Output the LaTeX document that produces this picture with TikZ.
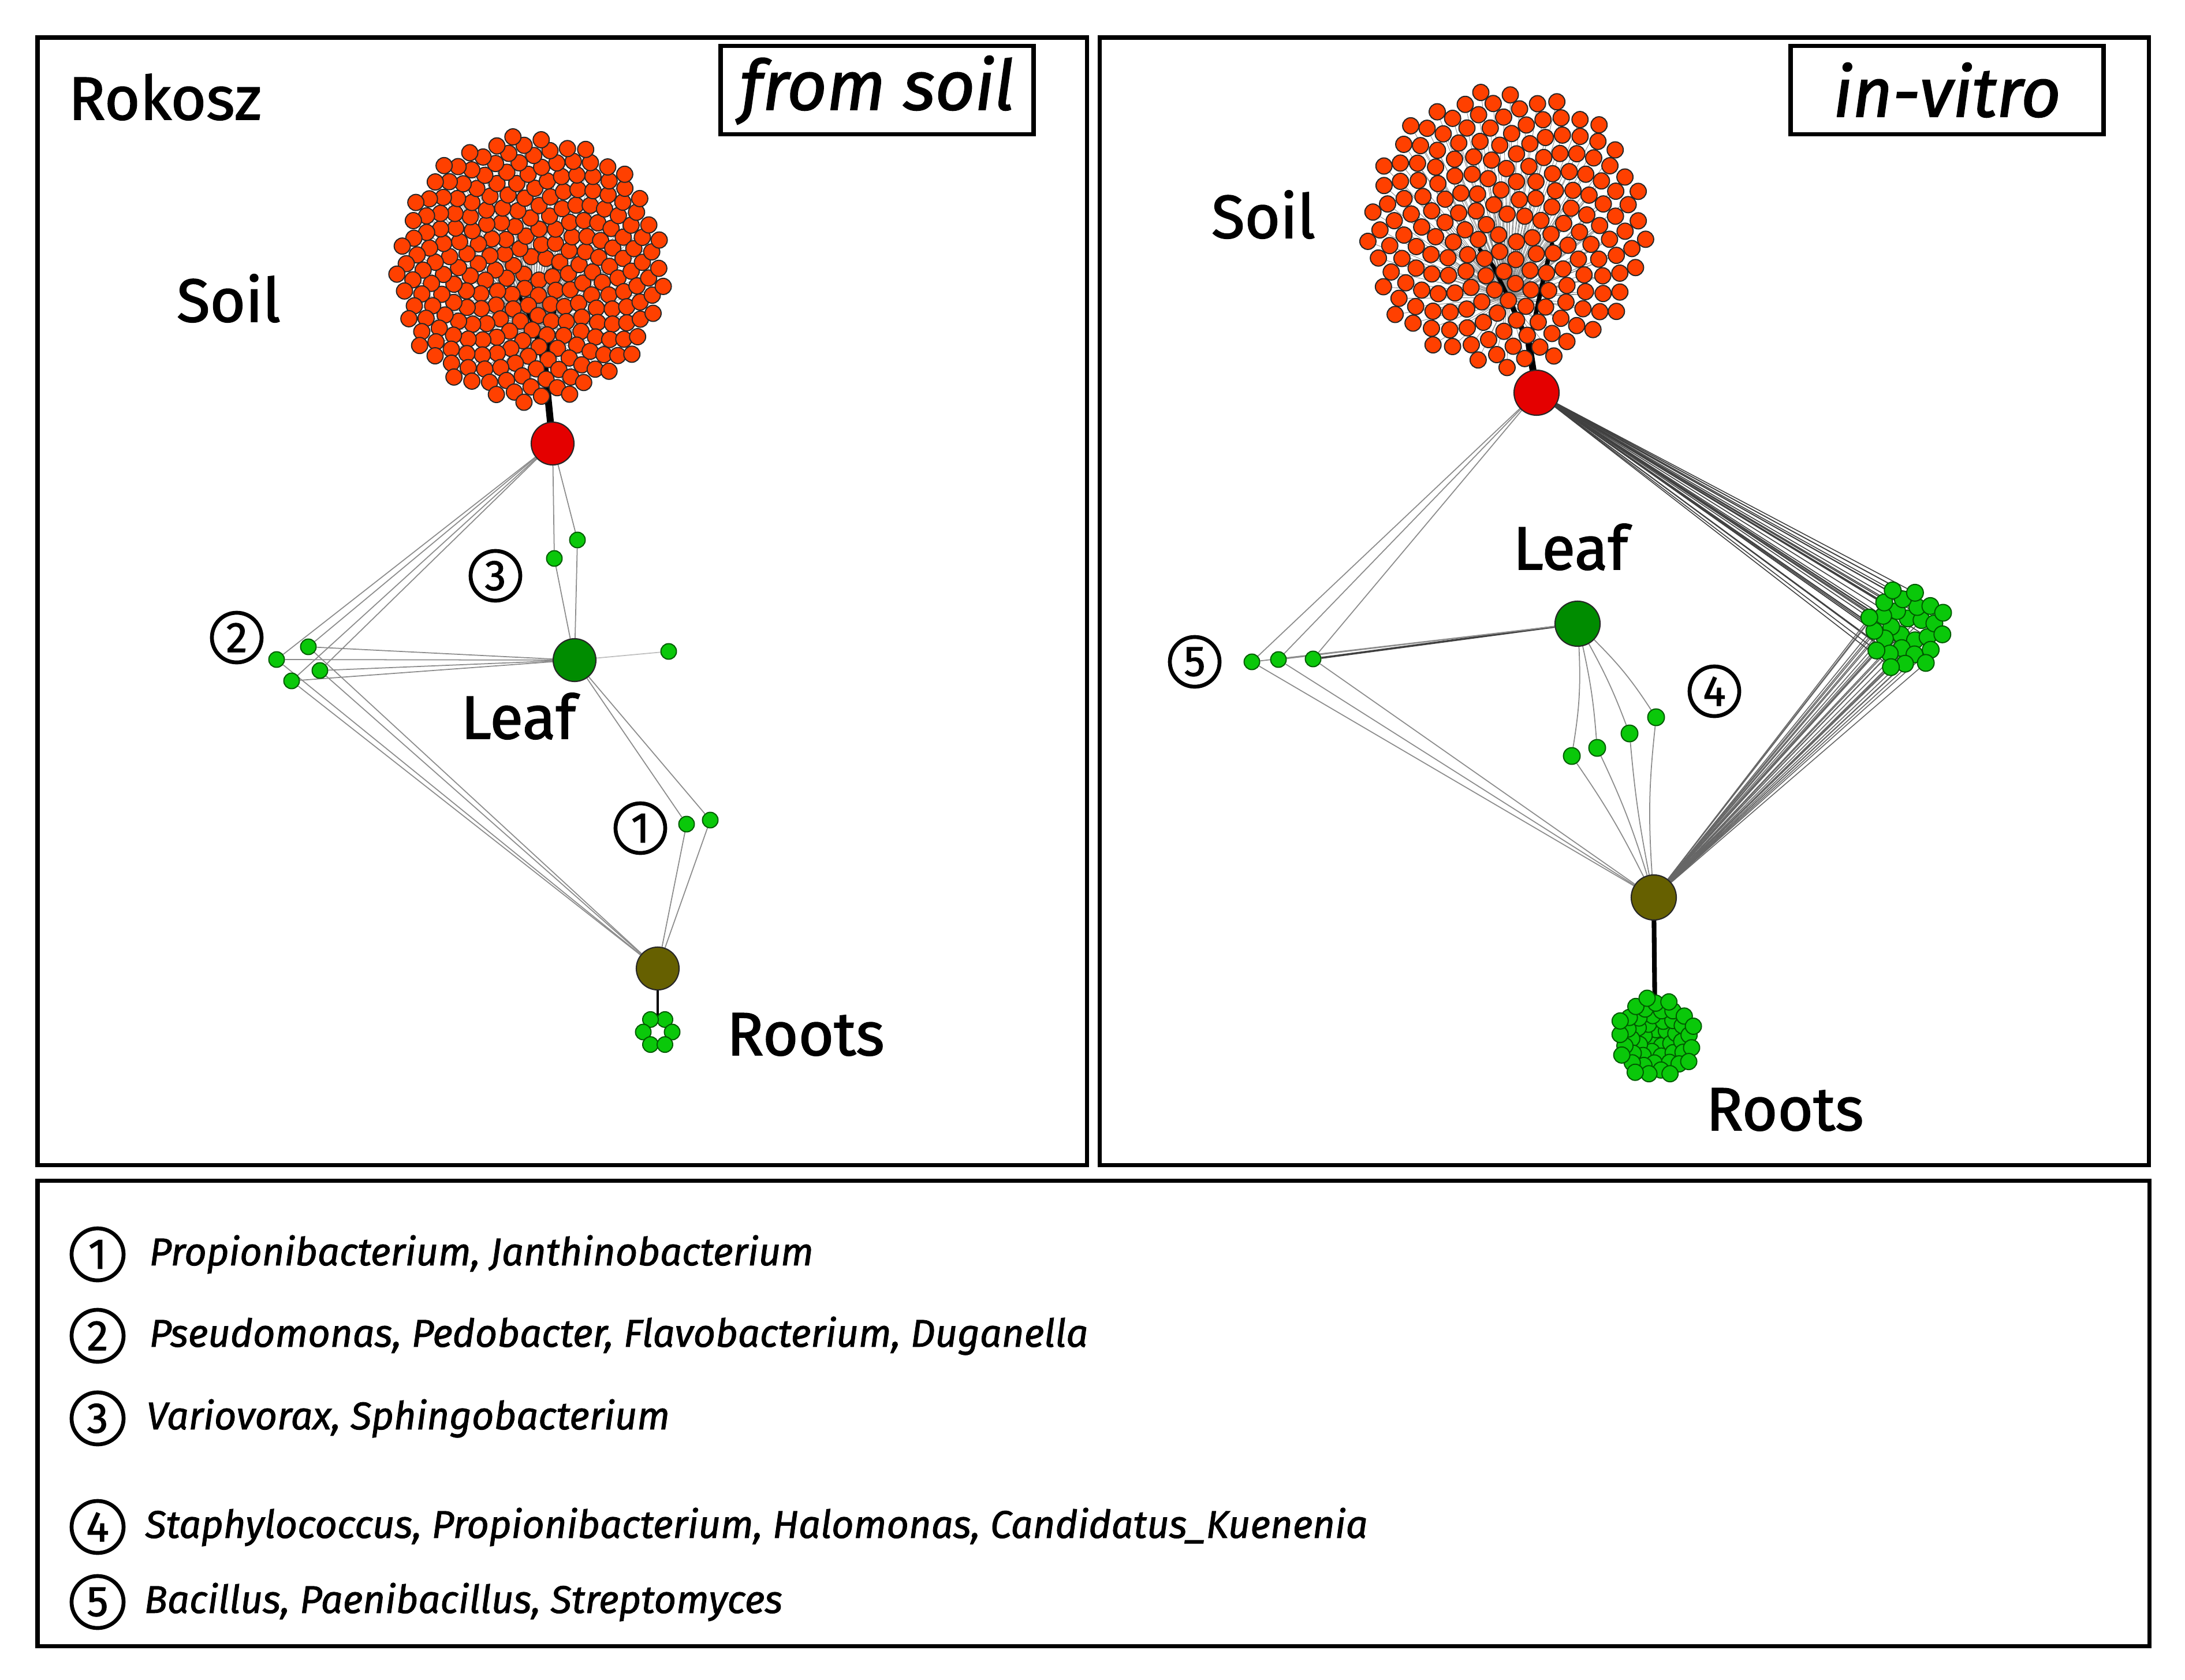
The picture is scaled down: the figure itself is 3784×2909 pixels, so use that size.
\documentclass[tikz,border=0pt]{standalone}
\usepackage{fontspec}
\setmainfont{Fira Sans}
\newfontfamily\labfont[FakeBold=1.6]{Fira Sans}
\newfontfamily\legfont[FakeBold=1.4]{Fira Sans}
\usetikzlibrary{calc}
\pgfdeclarelayer{edges}
\pgfsetlayers{edges,main}
\definecolor{soilc}{RGB}{255,64,0}
\definecolor{hubred}{RGB}{228,0,0}
\definecolor{leafc}{RGB}{0,140,0}
\definecolor{rootc}{RGB}{102,96,0}
\definecolor{gnc}{RGB}{10,200,10}
\definecolor{gnd}{RGB}{0,90,0}
\begin{document}
\begin{tikzpicture}[x=0.01cm,y=-0.01cm,
  soilnode/.style={circle,inner sep=0pt,minimum size=0.28cm,fill=soilc,draw=black!85,line width=0.55pt},
  hub/.style={circle,inner sep=0pt,minimum size=0.74cm,draw=black!85,line width=0.6pt},
  gnode/.style={circle,inner sep=0pt,minimum size=0.27cm,fill=gnc,draw=gnd,line width=0.55pt},
  frame/.style={draw,line width=2pt},
  tbox/.style={draw,line width=2.2pt,inner sep=0pt,minimum width=5.42cm,minimum height=1.53cm},
  lab/.style={inner sep=0pt,font=\fontsize{30}{30}\labfont},
  ttl/.style={font=\fontsize{34}{34}\labfont\itshape},
  numc/.style={circle,draw,line width=1.9pt,minimum size=0.86cm,inner sep=0pt,font=\fontsize{21}{21}\labfont},
  legt/.style={anchor=west,inner sep=0pt,font=\fontsize{19}{19}\legfont\itshape},
  fan/.style={line width=0.25pt,black!45},
  edge/.style={line width=0.5pt,black!45},
  bundle/.style={line width=0.45pt,black!75},
  bundleb/.style={line width=0.45pt,black!60},
  trunk/.style={line width=3.4pt,black,line cap=round},
]
\useasboundingbox (0,0) rectangle (3784,2909);
% frames
\draw[frame] (65,65) rectangle (1882,2017);
\draw[frame] (1904,65) rectangle (3721,2017);
\draw[frame] (65,2044) rectangle (3722,2850);
% titles
\node[tbox,ttl] (fromsoil) at (1519,156) {from soil};
\node[tbox,ttl] (invitro) at (3372,156) {in-vitro};
\node[lab,anchor=base west] (rokosz) at (118,207) {Rokosz};
% ---------- left panel ----------
\foreach \i in {1,...,255}{
  \pgfmathsetmacro\rr{14.6*sqrt(\i)}
  \pgfmathsetmacro\aa{360*(\i*0.381966-floor(\i*0.381966))}
  \node[soilnode] (ls\i) at ({918+\rr*cos(\aa)},{465+\rr*sin(\aa)}) {};
}
\node[hub,fill=hubred] (lsoilhub) at (957,768) {};
\node[hub,fill=leafc] (lleaf) at (995,1143) {};
\node[hub,fill=rootc] (lroot) at (1139,1677) {};
\node[gnode] (g3a) at (960,967) {};
\node[gnode] (g3b) at (1000,935) {};
\node[gnode] (g2a) at (479,1142) {};
\node[gnode] (g2b) at (534,1120) {};
\node[gnode] (g2c) at (554,1161) {};
\node[gnode] (g2d) at (505,1179) {};
\node[gnode] (lx) at (1158,1128) {};
\node[gnode] (g1a) at (1189,1427) {};
\node[gnode] (g1b) at (1230,1420) {};
\foreach \k/\ang in {1/-60,2/-120,3/180,4/0,5/120,6/60}
  \node[gnode] (lr\k) at ({1139+25*cos(\ang)},{1787+25*sin(\ang)}) {};
\coordinate (lrc) at (1139,1768);
\coordinate (lt1) at (944,639);
\coordinate (lt2) at (925,563);
\coordinate (lt3) at (893,500);
\coordinate (lt4) at (963,520);
\coordinate (lt5) at (958,450);
\node[lab,anchor=base] (lsoil) at (396,557) {Soil};
\node[lab,anchor=base] (lleaflab) at (898,1279) {Leaf};
\node[lab,anchor=base west] (lrootlab) at (1258,1827) {Roots};
\node[numc] (c3) at (858,997) {3};
\node[numc] (c2) at (410,1104) {2};
\node[numc] (c1) at (1109,1434) {1};
% ---------- right panel ----------
\foreach \i in {1,...,200}{
  \pgfmathsetmacro\rr{17.2*sqrt(\i)}
  \pgfmathsetmacro\aa{360*(\i*0.381966-floor(\i*0.381966))}
  \node[soilnode] (rs\i) at ({2608+\rr*cos(\aa)},{395+\rr*sin(\aa)}) {};
}
\foreach \i in {1,...,28}{
  \pgfmathsetmacro\rr{13.6*sqrt(\i)}
  \pgfmathsetmacro\aa{360*(\i*0.381966-floor(\i*0.381966))}
  \node[gnode,minimum size=0.29cm] (rg\i) at ({3302+\rr*cos(\aa)},{1090+\rr*sin(\aa)}) {};
}
\foreach \i in {1,...,50}{
  \pgfmathsetmacro\rr{10*sqrt(\i)}
  \pgfmathsetmacro\aa{360*(\i*0.381966-floor(\i*0.381966))}
  \node[gnode,minimum size=0.28cm] (rr\i) at ({2867+\rr*cos(\aa)},{1797+\rr*sin(\aa)}) {};
}
\node[hub,fill=hubred,minimum size=0.78cm] (rsoilhub) at (2661,680) {};
\node[hub,fill=leafc,minimum size=0.78cm] (rleaf) at (2732,1080) {};
\node[hub,fill=rootc,minimum size=0.78cm] (rroot) at (2864,1554) {};
\node[gnode] (g5a) at (2168,1146) {};
\node[gnode] (g5b) at (2214,1142) {};
\node[gnode] (g5c) at (2274,1141) {};
\node[gnode,minimum size=0.29cm] (g4a) at (2722,1309) {};
\node[gnode,minimum size=0.29cm] (g4b) at (2766,1295) {};
\node[gnode,minimum size=0.29cm] (g4c) at (2822,1270) {};
\node[gnode,minimum size=0.29cm] (g4d) at (2868,1242) {};
\coordinate (rrc) at (2866,1760);
\coordinate (rt1) at (2648,597);
\coordinate (rt2) at (2612,515);
\coordinate (rt3) at (2586,461);
\coordinate (rt4) at (2563,432);
\coordinate (rb1) at (2675,473);
\coordinate (rb2) at (2688,423);
\node[lab,anchor=base] (rsoil) at (2188,412) {Soil};
\node[lab,anchor=base] (rleaflab) at (2720,986) {Leaf};
\node[lab,anchor=base] (rrootlab) at (3091,1957) {Roots};
\node[numc] (c5) at (2069,1146) {5};
\node[numc] (c4) at (2969,1197) {4};
% ---------- legend ----------
\node[numc,minimum size=0.9cm] (n1) at (169,2172) {1};
\node[numc,minimum size=0.9cm] (n2) at (169,2313) {2};
\node[numc,minimum size=0.9cm] (n3) at (169,2456) {3};
\node[numc,minimum size=0.9cm] (n4) at (169,2644) {4};
\node[numc,minimum size=0.9cm] (n5) at (169,2774) {5};
\node[legt] (t1) at (258,2172) {Propionibacterium, Janthinobacterium};
\node[legt] (t2) at (258,2313) {Pseudomonas, Pedobacter, Flavobacterium, Duganella};
\node[legt] (t3) at (253,2456) {Variovorax, Sphingobacterium};
\node[legt] (t4) at (251,2644) {Staphylococcus, Propionibacterium, Halomonas, Candidatus\_Kuenenia};
\node[legt] (t5) at (249,2774) {Bacillus, Paenibacillus, Streptomyces};
% ---------- edges ----------
\begin{pgfonlayer}{edges}
  \foreach \i in {1,...,255} \draw[fan] (lt2) -- (ls\i);
  \draw[trunk] (lsoilhub) -- (lt1);
  \draw[trunk,line width=2.6pt] (lt1) -- (lt2);
  \draw[trunk,line width=1.8pt] (lt2) -- (lt3);
  \draw[trunk,line width=1.8pt] (lt1) -- (lt4) -- (lt5);
  \foreach \g in {g2a,g2b,g2c,g2d}{
    \draw[edge] (lsoilhub) -- (\g);
    \draw[edge] (\g) -- (lleaf);
    \draw[edge] (\g) -- (lroot);
  }
  \foreach \g in {g3a,g3b}{
    \draw[edge] (lsoilhub) -- (\g);
    \draw[edge] (\g) -- (lleaf);
  }
  \draw[edge,black!25] (lleaf) -- (lx);
  \foreach \g in {g1a,g1b}{
    \draw[edge] (lleaf) -- (\g);
    \draw[edge] (\g) -- (lroot);
  }
  \draw[line width=1pt] (lroot) -- (lrc);
  % right
  \foreach \i in {1,...,200} \draw[fan] (rt2) -- (rs\i);
  \draw[trunk] (rsoilhub) -- (rt1);
  \draw[trunk,line width=2.6pt] (rt1) -- (rt2);
  \draw[trunk,line width=2pt] (rt2) -- (rt3) -- (rt4);
  \draw[trunk,line width=2.2pt] (rt1) -- (rb1) -- (rb2);
  \foreach \i in {1,...,28}{
    \draw[bundle] (rsoilhub) -- (rg\i);
    \draw[bundleb] (rg\i) -- (rroot);
  }
  \foreach \g in {g5a,g5b,g5c}{
    \draw[edge] (rsoilhub) -- (\g);
    \draw[edge] (\g) -- (rroot);
  }
  \draw[line width=1pt,black!75] (rleaf) -- (g5c);
  \draw[edge] (rleaf) -- (g5b);
  \draw[edge] (rleaf) -- (g5a);
  \draw[edge] (rleaf) to[bend left=6] (g4a);
  \draw[edge] (rleaf) to[bend left=4] (g4b);
  \draw[edge] (rleaf) to[bend left=4] (g4c);
  \draw[edge] (rleaf) to[bend left=6] (g4d);
  \draw[edge] (g4a) to[bend left=4] (rroot);
  \draw[edge] (g4b) to[bend left=4] (rroot);
  \draw[edge] (g4c) to[bend right=3] (rroot);
  \draw[edge] (g4d) to[bend right=5] (rroot);
  \draw[line width=2.3pt] (rroot) -- (rrc);
\end{pgfonlayer}
\end{tikzpicture}
\end{document}
